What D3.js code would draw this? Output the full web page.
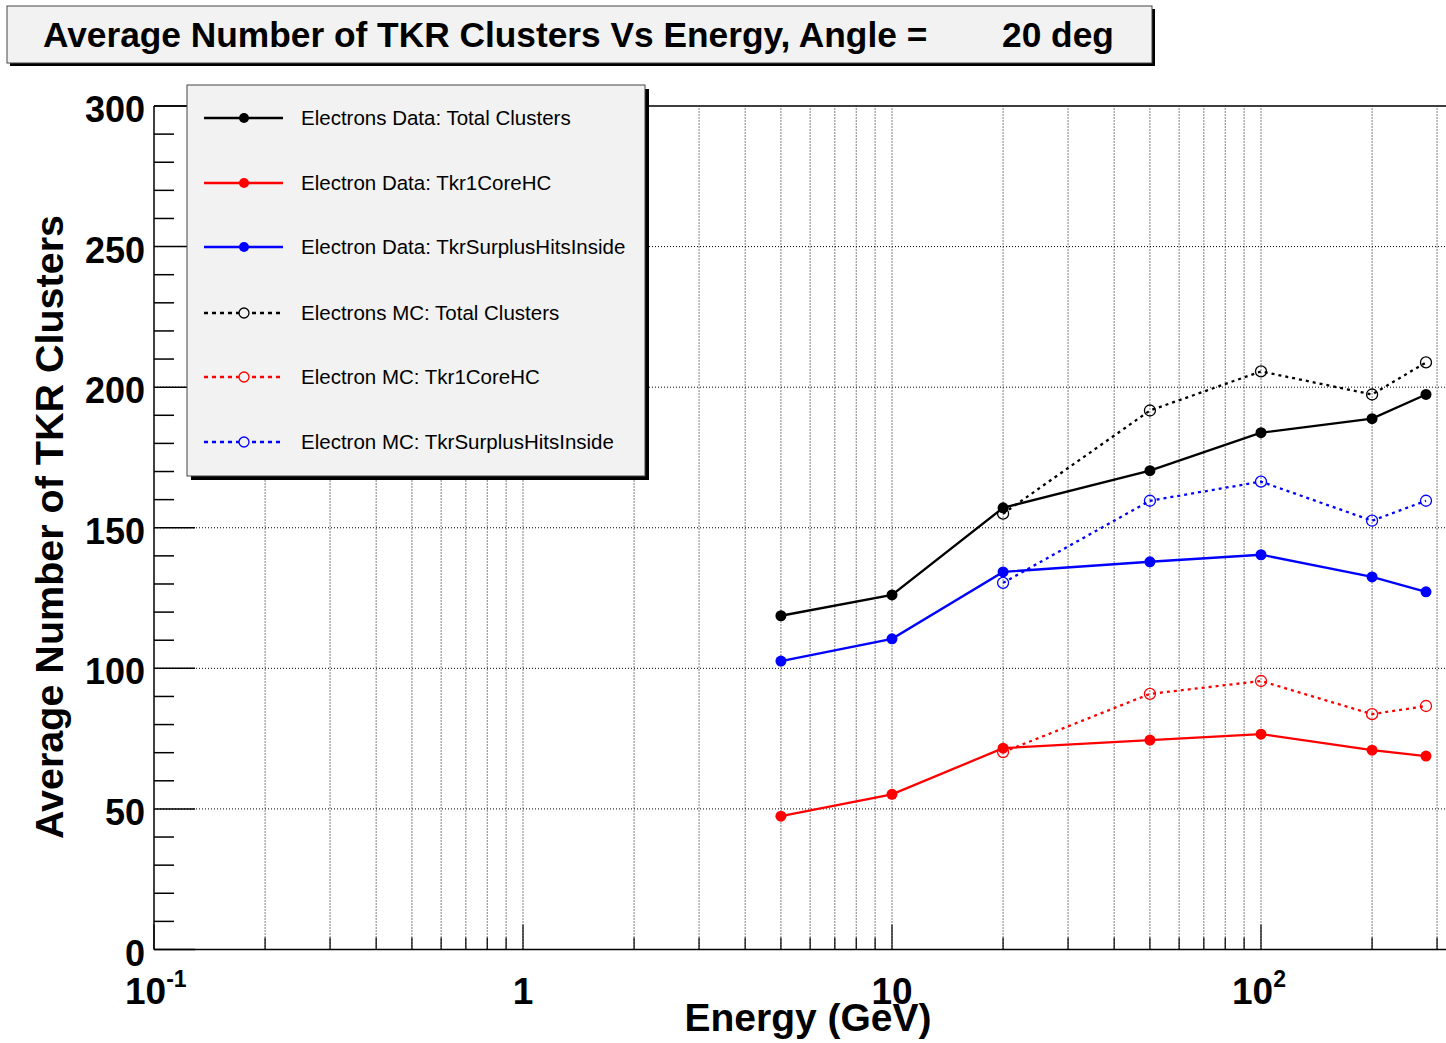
<!DOCTYPE html>
<html>
<head>
<meta charset="utf-8">
<script src="https://cdn.jsdelivr.net/npm/d3@7"></script>
<style>
  body { margin: 0; background: #fff; }
  text { font-family: "Liberation Sans", Arial, sans-serif; }
</style>
</head>
<body>
<div id="chart"></div>
<script>
// energies (GeV)
const energyData = [5, 10, 20, 50, 100, 200, 280];
const energyMC = [20, 50, 100, 200, 280];

// Data series
const dataTotal = [118.7, 126.1, 157.1, 170.3, 183.8, 188.8, 197.4];
const dataCore = [47.4, 55.2, 71.6, 74.5, 76.6, 70.9, 68.8];
const dataSurplus = [102.6, 110.5, 134.3, 137.9, 140.4, 132.5, 127.2];
// MC series
const mcTotal = [155.0, 191.7, 205.6, 197.4, 208.8];
const mcCore = [70.2, 90.9, 95.5, 83.7, 86.6];
const mcSurplus = [130.4, 159.6, 166.4, 152.5, 159.6];

const legendNames = [
  "Electrons Data: Total Clusters",
  "Electron Data: Tkr1CoreHC",
  "Electron Data: TkrSurplusHitsInside",
  "Electrons MC: Total Clusters",
  "Electron MC: Tkr1CoreHC",
  "Electron MC: TkrSurplusHitsInside"
];
const yTicks = [0, 50, 100, 150, 200, 250, 300];

const series = [
  {name: legendNames[0], x: energyData, y: dataTotal, color: "#000", mc: false},
  {name: legendNames[1], x: energyData, y: dataCore, color: "#ff0000", mc: false},
  {name: legendNames[2], x: energyData, y: dataSurplus, color: "#0000ff", mc: false},
  {name: legendNames[3], x: energyMC, y: mcTotal, color: "#000", mc: true},
  {name: legendNames[4], x: energyMC, y: mcCore, color: "#ff0000", mc: true},
  {name: legendNames[5], x: energyMC, y: mcSurplus, color: "#0000ff", mc: true}
];

const width = 1446, height = 1043;
const svg = d3.select("#chart").append("svg")
  .attr("width", width)
  .attr("height", height);

// one decade = 369px, 0.1 sits at x=154
const padL = 154, padB = 949.5, padT = 106;
const decade = 369;
const x = d3.scaleLog()
  .domain([0.1, 1000])
  .range([padL, padL + 4 * decade]);
const y = d3.scaleLinear()
  .domain([0, 300])
  .range([padB, padT]);
const padR = width + 10;

// grid
const grid = svg.append("g").attr("class", "grid");
const xGrid = [];
[0.1, 1, 10, 100].forEach(d => {
  for (let k = 1; k <= 9; k++) xGrid.push(d * k);
});
xGrid.push(1000);
grid.selectAll("line.gx")
  .data(xGrid.filter(d => x(d) > padL + 1 && x(d) < width))
  .enter().append("line")
  .attr("x1", d => x(d)).attr("x2", d => x(d))
  .attr("y1", padB).attr("y2", padT)
  .attr("stroke", "#000")
  .attr("stroke-width", 1)
  .attr("stroke-dasharray", "1,2");
grid.selectAll("line.gy")
  .data(yTicks.slice(1, -1))
  .enter().append("line")
  .attr("x1", padL).attr("x2", padR)
  .attr("y1", d => y(d)).attr("y2", d => y(d))
  .attr("stroke", "#000")
  .attr("stroke-width", 1)
  .attr("stroke-dasharray", "1,2");

// axes with root-style inward ticks
const yMinor = d3.range(0, 301, 10);
const yAx = svg.append("g");
yAx.selectAll("line.t")
  .data(yMinor)
  .enter().append("line")
  .attr("x1", padL)
  .attr("x2", d => padL + (d % 50 === 0 ? 41 : 20))
  .attr("y1", d => y(d)).attr("y2", d => y(d))
  .attr("stroke", "#000").attr("stroke-width", 1.5);
yAx.selectAll("text")
  .data(yTicks)
  .enter().append("text")
  .attr("x", 145)
  .attr("y", d => y(d) + 16)
  .attr("text-anchor", "end")
  .attr("font-size", 36)
  .attr("font-weight", "bold")
  .text(d => d);

const xAx = svg.append("g");
xAx.selectAll("line.t")
  .data(xGrid.filter(d => x(d) < width))
  .enter().append("line")
  .attr("x1", d => x(d)).attr("x2", d => x(d))
  .attr("y1", padB)
  .attr("y2", d => padB - ([0.1, 1, 10, 100, 1000].includes(d) ? 25 : 12))
  .attr("stroke", "#000").attr("stroke-width", 1.2);

const xLabels = [
  {v: 0.1, base: "10", sup: "-1"},
  {v: 1, base: "1", sup: ""},
  {v: 10, base: "10", sup: ""},
  {v: 100, base: "10", sup: "2"}
];
const xl = xAx.selectAll("text")
  .data(xLabels)
  .enter().append("text")
  .attr("x", d => d.sup ? x(d.v) - 29 : x(d.v))
  .attr("y", 1004)
  .attr("text-anchor", d => d.sup ? "start" : "middle")
  .attr("font-size", 37)
  .attr("font-weight", "bold");
xl.append("tspan").text(d => d.base);
xl.append("tspan")
  .attr("dy", -17)
  .attr("font-size", 23)
  .text(d => d.sup);

// frame
svg.append("line")
  .attr("x1", padL).attr("x2", padL)
  .attr("y1", padT).attr("y2", padB)
  .attr("stroke", "#000").attr("stroke-width", 1.5);
svg.append("line")
  .attr("x1", padL).attr("x2", padR)
  .attr("y1", padB).attr("y2", padB)
  .attr("stroke", "#000").attr("stroke-width", 1.5);
svg.append("line")
  .attr("x1", padL).attr("x2", padR)
  .attr("y1", padT).attr("y2", padT)
  .attr("stroke", "#000").attr("stroke-width", 1.5);

// axis titles
svg.append("text")
  .attr("x", 808).attr("y", 1031)
  .attr("text-anchor", "middle")
  .attr("font-size", 39).attr("font-weight", "bold")
  .text("Energy (GeV)");
svg.append("text")
  .attr("transform", "translate(63,527) rotate(-90)")
  .attr("text-anchor", "middle")
  .attr("font-size", 39.5).attr("font-weight", "bold")
  .text("Average Number of TKR Clusters");

// series
const line = d3.line()
  .x(d => x(d[0]))
  .y(d => y(d[1]));

const plot = svg.append("g");
series.forEach(s => {
  const pts = s.x.map((e, i) => [e, s.y[i]]);
  plot.append("path")
    .attr("d", line(pts))
    .attr("fill", "none")
    .attr("stroke", s.color)
    .attr("stroke-width", 2.3)
    .attr("stroke-dasharray", s.mc ? "3,4" : null);
  plot.selectAll(null)
    .data(pts)
    .enter().append("circle")
    .attr("cx", d => x(d[0]))
    .attr("cy", d => y(d[1]))
    .attr("r", s.mc ? 5.5 : 5.5)
    .attr("fill", s.mc ? "none" : s.color)
    .attr("stroke", s.color)
    .attr("stroke-width", s.mc ? 1.3 : 0);
});

// legend
const lg = svg.append("g");
lg.append("rect")
  .attr("x", 191).attr("y", 89)
  .attr("width", 458).attr("height", 391)
  .attr("fill", "#000");
lg.append("rect")
  .attr("x", 187).attr("y", 85)
  .attr("width", 458).attr("height", 391)
  .attr("fill", "#f2f2f2")
  .attr("stroke", "#444").attr("stroke-width", 1);
const rowY = [118, 183, 247, 313, 377, 442];
series.forEach((s, i) => {
  const ry = rowY[i];
  lg.append("line")
    .attr("x1", 204).attr("x2", 283)
    .attr("y1", ry).attr("y2", ry)
    .attr("stroke", s.color)
    .attr("stroke-width", 2.3)
    .attr("stroke-dasharray", s.mc ? "4,4" : null);
  lg.append("circle")
    .attr("cx", 244).attr("cy", ry)
    .attr("r", 5)
    .attr("fill", s.mc ? "#f2f2f2" : s.color)
    .attr("stroke", s.color)
    .attr("stroke-width", s.mc ? 1.3 : 0);
  lg.append("text")
    .attr("x", 301).attr("y", ry + 7)
    .attr("font-size", 20.5)
    .text(s.name);
});

// title box
const tb = svg.append("g");
tb.append("rect")
  .attr("x", 10).attr("y", 9)
  .attr("width", 1145).attr("height", 57)
  .attr("fill", "#000");
tb.append("rect")
  .attr("x", 7).attr("y", 6)
  .attr("width", 1145).attr("height", 57)
  .attr("fill", "#f2f2f2")
  .attr("stroke", "#444").attr("stroke-width", 1);
tb.append("text")
  .attr("x", 43).attr("y", 47)
  .attr("font-size", 35.3).attr("font-weight", "bold")
  .text("Average Number of TKR Clusters Vs Energy, Angle =");
tb.append("text")
  .attr("x", 1002).attr("y", 47)
  .attr("font-size", 35.3).attr("font-weight", "bold")
  .text("20 deg");
</script>
</body>
</html>
